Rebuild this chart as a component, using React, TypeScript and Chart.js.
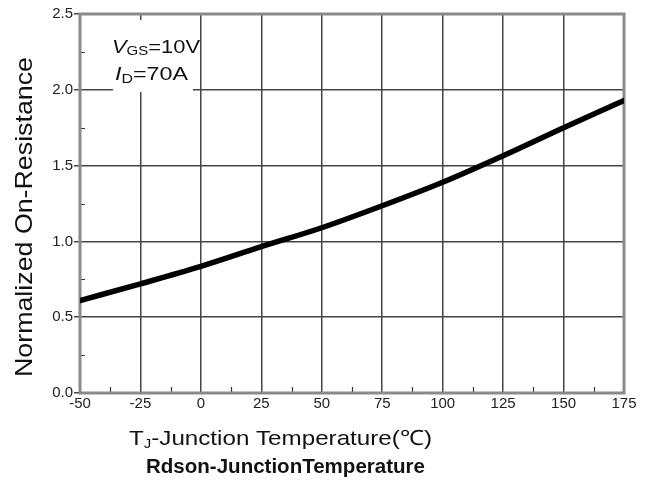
import React, { useEffect, useRef } from "react";
import { Chart, registerables } from "chart.js";

Chart.register(...registerables);

const temperatures = [-50, -25, 0, 25, 50, 75, 100, 125, 150, 175];
const normalizedRdson = [0.61, 0.72, 0.835, 0.965, 1.09, 1.235, 1.39, 1.565, 1.75, 1.93];
const xMinorTicks = [-37.5, -12.5, 12.5, 37.5, 62.5, 87.5, 112.5, 137.5, 162.5];
const yMinorTicks = [0.25, 0.75, 1.25, 1.75, 2.25];

const SANS = "'Liberation Sans', Arial, sans-serif";

type Part = { text: string; font: string; dy: number };
function drawPartsFit(
  ctx: CanvasRenderingContext2D,
  x: number,
  y: number,
  parts: Part[],
  targetWidth: number
) {
  let total = 0;
  for (const p of parts) {
    ctx.font = p.font;
    total += ctx.measureText(p.text).width;
  }
  const k = targetWidth / total;
  ctx.save();
  ctx.translate(x, y);
  ctx.scale(k, 1);
  let cx = 0;
  for (const p of parts) {
    ctx.font = p.font;
    ctx.fillText(p.text, cx, p.dy);
    cx += ctx.measureText(p.text).width;
  }
  ctx.restore();
}

const decorPlugin = {
  id: "decor",
  beforeDatasetsDraw(chart: any) {
    const ctx: CanvasRenderingContext2D = chart.ctx;
    const { left, right, top, bottom } = chart.chartArea;
    const xs = chart.scales.x;
    const ys = chart.scales.y;
    ctx.save();
    // annotation box
    ctx.fillStyle = "#ffffff";
    ctx.fillRect(left + 33, top + 6, 80, 72);
    ctx.fillStyle = "#111";
    ctx.textBaseline = "alphabetic";
    ctx.textAlign = "left";
    drawPartsFit(
      ctx,
      left + 32,
      top + 39,
      [
        { text: "V", font: `italic 19px ${SANS}`, dy: 0 },
        { text: "GS", font: `13px ${SANS}`, dy: 2 },
        { text: "=10V", font: `19px ${SANS}`, dy: 0 },
      ],
      88
    );
    drawPartsFit(
      ctx,
      left + 35,
      top + 66,
      [
        { text: "I", font: `italic 19px ${SANS}`, dy: 0 },
        { text: "D", font: `13px ${SANS}`, dy: 3 },
        { text: "=70A", font: `19px ${SANS}`, dy: 0 },
      ],
      73
    );
    // minor ticks
    ctx.strokeStyle = "#333";
    ctx.lineWidth = 1.2;
    ctx.beginPath();
    for (const v of yMinorTicks) {
      const py = Math.round(ys.getPixelForValue(v)) + 0.5;
      ctx.moveTo(left + 1, py);
      ctx.lineTo(left + 5, py);
    }
    for (const v of xMinorTicks) {
      const px = Math.round(xs.getPixelForValue(v)) + 0.5;
      ctx.moveTo(px, bottom - 1);
      ctx.lineTo(px, bottom - 6);
    }
    ctx.stroke();
    // frame
    ctx.strokeStyle = "#8a8a8a";
    ctx.lineWidth = 3;
    ctx.strokeRect(left, top, right - left, bottom - top);
    ctx.restore();
  },
  afterDraw(chart: any) {
    const ctx: CanvasRenderingContext2D = chart.ctx;
    ctx.save();
    ctx.fillStyle = "#111";
    ctx.textBaseline = "alphabetic";
    ctx.textAlign = "left";
    drawPartsFit(
      ctx,
      129,
      445,
      [
        { text: "T", font: `21px ${SANS}`, dy: 0 },
        { text: "J", font: `13px ${SANS}`, dy: 3 },
        { text: "-Junction Temperature(℃)", font: `21px ${SANS}`, dy: 0 },
      ],
      303
    );
    drawPartsFit(
      ctx,
      146,
      473,
      [{ text: "Rdson-JunctionTemperature", font: `bold 20px ${SANS}`, dy: 0 }],
      279
    );
    ctx.translate(32, 377);
    ctx.rotate(-Math.PI / 2);
    drawPartsFit(
      ctx,
      0,
      0,
      [{ text: "Normalized On-Resistance", font: `24px ${SANS}`, dy: 0 }],
      320
    );
    ctx.restore();
  },
};

export default function App() {
  const ref = useRef<HTMLCanvasElement>(null);
  useEffect(() => {
    if (!ref.current) return;
    const chart = new Chart(ref.current, {
      type: "line",
      data: {
        datasets: [
          {
            data: temperatures.map((t, i) => ({ x: t, y: normalizedRdson[i] })),
            borderColor: "#000",
            borderWidth: 5.5,
            pointRadius: 0,
            cubicInterpolationMode: "monotone",
            borderCapStyle: "round",
          },
        ],
      },
      options: {
        responsive: false,
        animation: false,
        layout: { padding: { top: 14, right: 25, left: 0, bottom: 0 } },
        plugins: { legend: { display: false }, tooltip: { enabled: false } },
        scales: {
          x: {
            type: "linear",
            min: -50,
            max: 175,
            afterFit: (s: any) => {
              s.height = 96;
            },
            ticks: {
              stepSize: 25,
              padding: 2,
              color: "#222",
              font: { family: SANS, size: 15 },
              maxRotation: 0,
            },
            grid: { color: "#444", lineWidth: 1.5, drawTicks: false },
            border: { display: false },
          },
          y: {
            min: 0,
            max: 2.5,
            afterFit: (s: any) => {
              s.width = 80;
            },
            ticks: {
              stepSize: 0.5,
              padding: 1,
              color: "#222",
              font: { family: SANS, size: 15 },
              callback: (v: any) => Number(v).toFixed(1),
            },
            grid: { color: "#444", lineWidth: 1.5, tickLength: 6 },
            border: { display: false },
          },
        },
      },
      plugins: [decorPlugin],
    } as any);
    return () => chart.destroy();
  }, []);
  return (
    <div style={{ position: "fixed", left: 0, top: 0, width: 649, height: 489, background: "#fff" }}>
      <canvas ref={ref} width={649} height={489} />
    </div>
  );
}
